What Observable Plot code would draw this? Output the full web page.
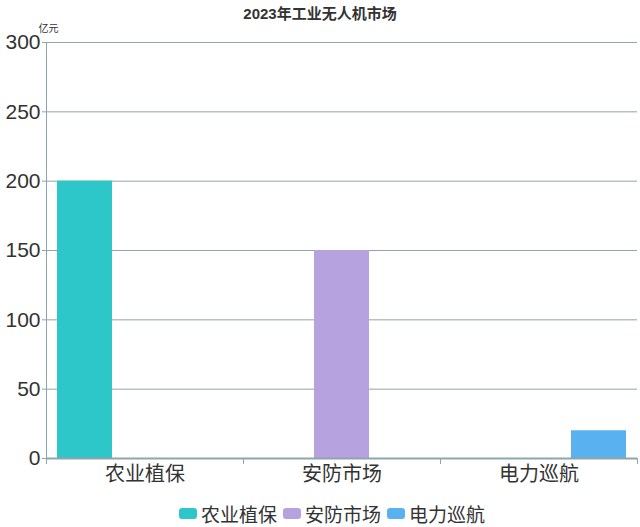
<!DOCTYPE html>
<html>
<head>
<meta charset="utf-8">
<script src="https://cdn.jsdelivr.net/npm/d3@7"></script>
<script src="https://cdn.jsdelivr.net/npm/@observablehq/plot@0.6"></script>
<style>
  html, body { margin: 0; padding: 0; background: #fff; }
  body { font-family: "Liberation Sans", "Noto Sans CJK SC", sans-serif; color: #333; }
  #wrap { width: 640px; }
  #title { height: 28px; line-height: 28px; text-align: center; font-size: 15px; font-weight: bold; color: #333; }
  #legend { display: flex; justify-content: center; align-items: center; height: 27px; font-size: 19px; color: #333; padding-left: 24px; }
  .item { display: flex; align-items: center; margin: 0 3px; }
  .sw { width: 18px; height: 11px; border-radius: 3px; margin-right: 4px; }
</style>
</head>
<body>
<div id="wrap">
  <div id="title"></div>
  <div id="chart"></div>
  <div id="legend"></div>
</div>
<script>
const titleText = "2023年工业无人机市场";
const yUnit = "亿元";
const categories = ["农业植保", "安防市场", "电力巡航"];
const seriesNames = ["农业植保", "安防市场", "电力巡航"];
const agriValues = [200, null, null];
const securityValues = [null, 150, null];
const powerValues = [null, null, 20];
const yTicks = [0, 50, 100, 150, 200, 250, 300];
const colors = ["#2ec7c9", "#b6a2de", "#5ab1ef"];

const seriesValues = [agriValues, securityValues, powerValues];
const rows = [];
seriesNames.forEach((s, si) => {
  seriesValues[si].forEach((v, ci) => {
    if (v != null) rows.push({category: categories[ci], series: s, value: v});
  });
});

const axisColor = "#8ea5ab";
const H = 472, MT = 14, MB = 42;
const frameH = H - MT - MB;

document.getElementById("title").textContent = titleText;

const chart = Plot.plot({
  width: 640,
  height: H,
  marginTop: MT,
  marginBottom: MB,
  marginLeft: 45,
  marginRight: 3,
  style: {fontFamily: '"Liberation Sans", "Noto Sans CJK SC", sans-serif', fontSize: "20px", color: "#333", background: "#fff", overflow: "visible"},
  fx: {domain: categories, padding: 0, label: null, axis: null},
  x: {domain: seriesNames, paddingInner: 0.09, paddingOuter: 0.18, axis: null},
  y: {domain: [0, 300], label: null, axis: null},
  color: {domain: seriesNames, range: colors},
  marks: [
    Plot.gridY(yTicks.filter(v => v > 0), {stroke: axisColor, strokeOpacity: 1}),
    Plot.barY(rows, {fx: "category", x: "series", y: "value", fill: "series"}),
    Plot.ruleY([0], {stroke: axisColor, strokeWidth: 2}),
    Plot.frame({anchor: "left", facetAnchor: "left", stroke: axisColor}),
    Plot.frame({anchor: "left", stroke: axisColor, insetTop: frameH, insetBottom: -5}),
    Plot.frame({anchor: "right", facetAnchor: "right", stroke: axisColor, insetTop: frameH, insetBottom: -5}),
    Plot.axisY(yTicks, {tickSize: 4, tickPadding: 2, stroke: axisColor, fill: "#333", fontSize: 21, label: null}),
    Plot.axisFx({anchor: "bottom", tickSize: 0, tickPadding: 8, fontSize: 20, label: null, fill: "#333"}),
    Plot.text([{fx: categories[0], t: yUnit}], {fx: "fx", text: "t", frameAnchor: "top-left", lineAnchor: "middle", dx: -8, dy: -14, textAnchor: "start", fontSize: 10, fill: "#333"})
  ]
});
document.getElementById("chart").appendChild(chart);

const legend = document.getElementById("legend");
seriesNames.forEach((s, i) => {
  const item = document.createElement("div");
  item.className = "item";
  const sw = document.createElement("span");
  sw.className = "sw";
  sw.style.background = colors[i];
  const tx = document.createElement("span");
  tx.textContent = s;
  item.appendChild(sw);
  item.appendChild(tx);
  legend.appendChild(item);
});
</script>
</body>
</html>
